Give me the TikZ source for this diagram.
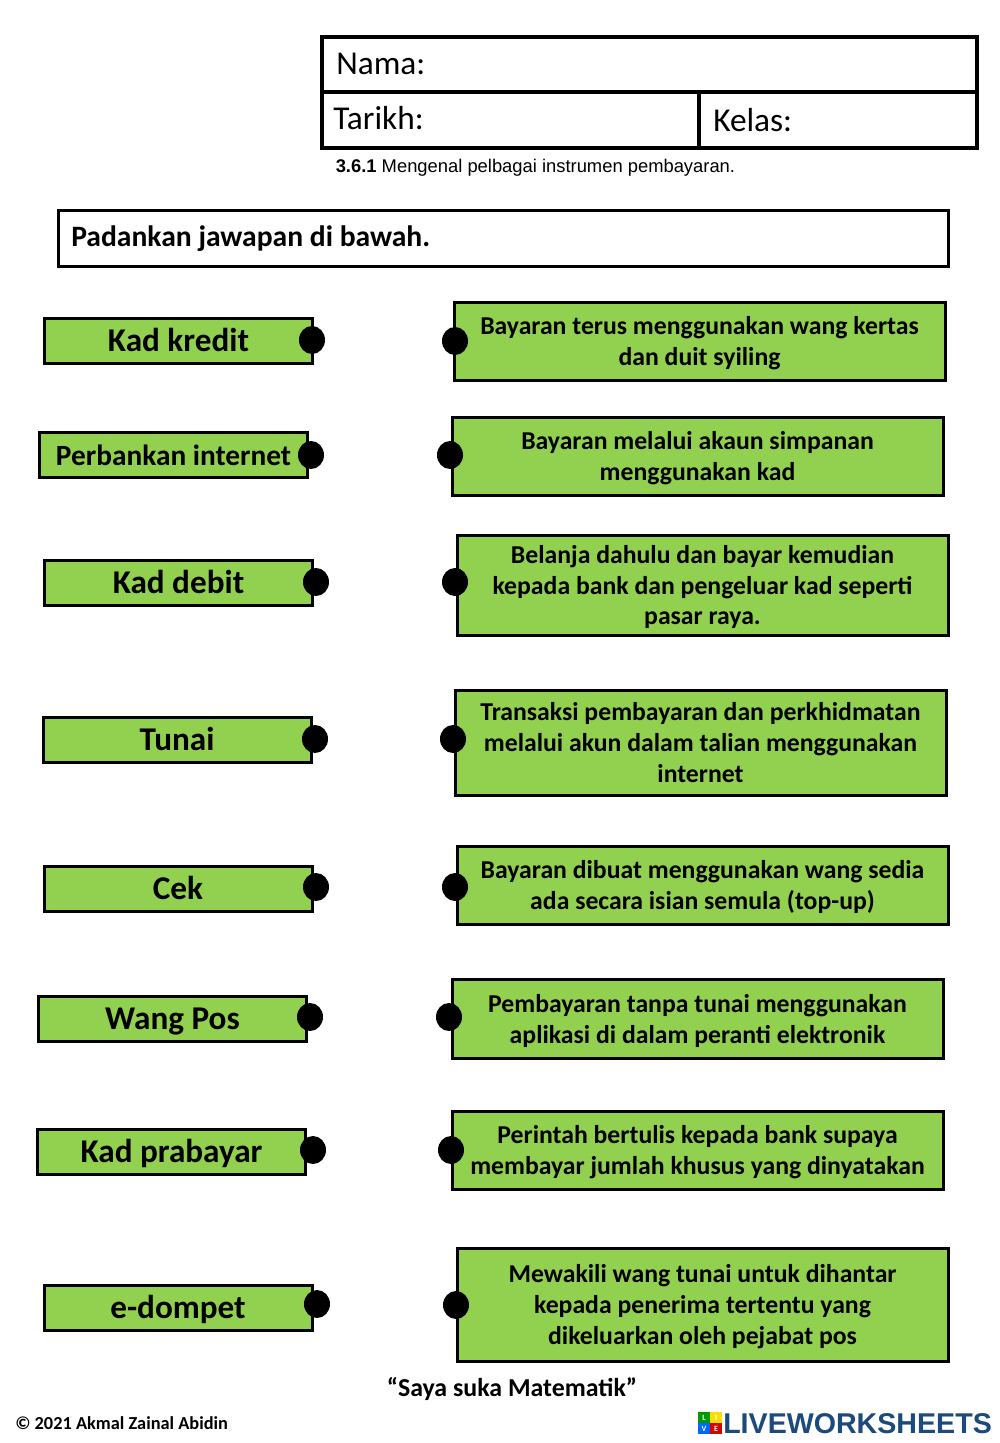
\documentclass[tikz,border=0pt]{standalone}
\usepackage{fontspec}
\setmainfont{Carlito}
\newfontfamily\arialfont{Liberation Sans}
\usetikzlibrary{positioning,shapes.geometric}
\definecolor{boxgreen}{HTML}{92D050}
\definecolor{logoblue}{HTML}{1C4A7C}
\tikzset{
    leftbox/.style={draw,fill=boxgreen,line width=2.25pt,minimum width=201pt,minimum height=33.75pt,inner sep=0pt,
        text height=17pt,text depth=0pt,font=\bfseries\fontsize{24.9}{28}\selectfont},
    rightbox/.style={draw,fill=boxgreen,line width=2.25pt,minimum width=368.25pt,inner sep=0pt,align=center,
        text depth=0pt,font=\bfseries\fontsize{19.3}{23.2}\selectfont},
    dot/.style={ellipse,fill=black,minimum width=19.5pt,minimum height=21pt,inner sep=0pt},
    cell/.style={draw,line width=2.6pt,inner sep=0pt},
    logosq/.style={minimum width=8.7pt,minimum height=8pt,inner sep=0pt,text=white,font=\bfseries\fontsize{6}{6}\selectfont}
}
\begin{document}
\begin{tikzpicture}[x=0.75pt,y=-0.75pt]
    \useasboundingbox (0,0) rectangle (1000,1443);
    % header
    \node[cell,minimum width=491.25pt,minimum height=41.25pt] (nama) at (649.5,64.5) {};
    \node[cell,minimum width=282.75pt,minimum height=42pt] (tarikh) at (510.5,120) {};
    \node[cell,minimum width=208.5pt,minimum height=42pt] (kelas) at (838,120) {};
    \node[font=\fontsize{25}{30}\selectfont,anchor=base west,inner sep=0pt] (namatext) at (336,74) {Nama:};
    \node[font=\fontsize{25}{30}\selectfont,anchor=base west,inner sep=0pt] (tarikhtext) at (333,129) {Tarikh:};
    \node[font=\fontsize{25}{30}\selectfont,anchor=base west,inner sep=0pt] (kelastext) at (713,131) {Kelas:};
    \node[font=\arialfont\fontsize{13.78}{16}\selectfont,anchor=base west,inner sep=0pt] (standard) at (335.5,172) {\textbf{3.6.1} Mengenal pelbagai instrumen pembayaran.};
    \node[draw,line width=2.25pt,minimum width=667.5pt,minimum height=42pt] (arahan) at (503,238) {};
    \node[font=\bfseries\fontsize{22.2}{25}\selectfont,anchor=base west,inner sep=0pt] (arahantext) at (71,246) {Padankan jawapan di bawah.};
    % left column
    \node[leftbox] (kredit) at (178.5,340.5) {Kad kredit};
    \node[leftbox,font=\bfseries\fontsize{22}{26}\selectfont] (internet) at (173.5,454.5) {Perbankan internet};
    \node[leftbox] (debit) at (178.5,582.5) {Kad debit};
    \node[leftbox] (tunai) at (177,739.5) {Tunai};
    \node[leftbox] (cek) at (178,888.5) {Cek};
    \node[leftbox] (wangpos) at (172.5,1018.5) {Wang Pos};
    \node[leftbox] (prabayar) at (171.5,1151.5) {Kad prabayar};
    \node[leftbox] (edompet) at (178,1307.5) {e-dompet};
    % right column
    \node[rightbox,minimum height=58.5pt] (r1) at (699.5,341) {Bayaran terus menggunakan wang kertas\\dan duit syiling};
    \node[rightbox,minimum height=58.5pt] (r2) at (697.5,456) {Bayaran melalui akaun simpanan\\menggunakan kad};
    \node[rightbox,minimum height=75pt] (r3) at (702.5,585) {Belanja dahulu dan bayar kemudian\\kepada bank dan pengeluar kad seperti\\pasar raya.};
    \node[rightbox,minimum height=78.75pt] (r4) at (700.5,742.5) {Transaksi pembayaran dan perkhidmatan\\melalui akun dalam talian menggunakan\\internet};
    \node[rightbox,minimum height=58.5pt] (r5) at (702.5,885) {Bayaran dibuat menggunakan wang sedia\\ada secara isian semula (top-up)};
    \node[rightbox,minimum height=59.25pt] (r6) at (697.5,1018.5) {Pembayaran tanpa tunai menggunakan\\aplikasi di dalam peranti elektronik};
    \node[rightbox,minimum height=58.5pt] (r7) at (697.5,1150) {Perintah bertulis kepada bank supaya\\membayar jumlah khusus yang dinyatakan};
    \node[rightbox,minimum height=84.75pt] (r8) at (702.5,1304.5) {Mewakili wang tunai untuk dihantar\\kepada penerima tertentu yang\\dikeluarkan oleh pejabat pos};
    % dots
    \node[dot] (kreditdot) at (312,340) {};
    \node[dot] (internetdot) at (311,455) {};
    \node[dot] (debitdot) at (316,582) {};
    \node[dot] (tunaidot) at (315,739) {};
    \node[dot] (cekdot) at (316,887) {};
    \node[dot] (wangposdot) at (310,1017) {};
    \node[dot] (prabayardot) at (313,1150) {};
    \node[dot] (edompetdot) at (317,1304) {};
    \node[dot] (r1dot) at (455,341) {};
    \node[dot] (r2dot) at (450,455) {};
    \node[dot] (r3dot) at (455,582) {};
    \node[dot] (r4dot) at (453,739) {};
    \node[dot] (r5dot) at (455,887) {};
    \node[dot] (r6dot) at (449,1017) {};
    \node[dot] (r7dot) at (451,1150) {};
    \node[dot] (r8dot) at (456,1305) {};
    % footer
    \node[font=\bfseries\fontsize{19.4}{22}\selectfont] (motto) at (512,1389) {“Saya suka Matematik”};
    \node[font=\bfseries\fontsize{13.75}{16}\selectfont,anchor=base west,inner sep=0pt] (credit) at (15,1429) {© 2021 Akmal Zainal Abidin};
    \node[logosq,fill=green!60!black] (logol) at (704,1417.5) {L};
    \node[logosq,fill=yellow!80!orange,right=0pt of logol] (logoi) {I};
    \node[logosq,fill=blue!60!cyan,below=0pt of logol] (logov) {V};
    \node[logosq,fill=red!85!black,right=0pt of logov] (logoe) {E};
    \node[font=\arialfont\bfseries\fontsize{21.45}{26}\selectfont,text=logoblue,anchor=base west,inner sep=0pt] (logotext) at (723,1433) {LIVEWORKSHEETS};
\end{tikzpicture}
\end{document}
